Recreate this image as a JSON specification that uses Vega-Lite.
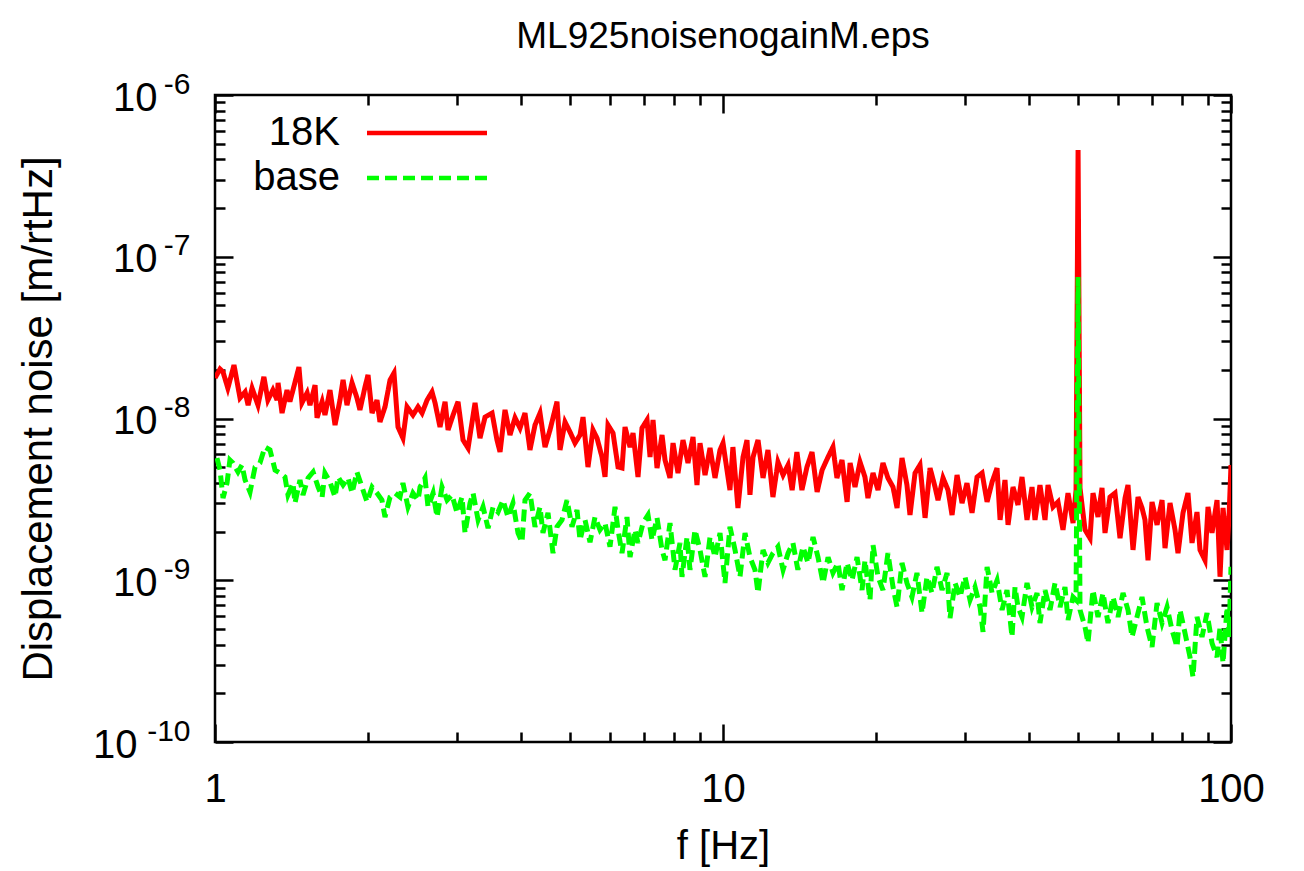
{
"$schema":"https://vega.github.io/schema/vega-lite/v6.json",
"width":1016,"height":647,
"autosize":{"type":"none"},
"padding":{"left":215,"top":95,"right":73,"bottom":129},
"background":"white",
"title":{"text":"ML925noisenogainM.eps","fontSize":37,"font":"Liberation Sans","fontWeight":"normal","color":"black","anchor":"middle","frame":"group","offset":13},
"config":{
 "view":{"stroke":"black","strokeWidth":2.5},
 "axis":{"labelFont":"Liberation Sans","titleFont":"Liberation Sans","labelColor":"black","titleColor":"black","tickColor":"black","tickWidth":2.5,"domain":false,"grid":false,"labelFontSize":40,"titleFontSize":40,"titleFontWeight":"normal","labelFlush":false,"labelOverlap":false,"labelBound":false},
 "legend":{"orient":"none","legendX":150,"legendY":18,"symbolType":"M-6,0H6","symbolSize":400,"symbolStrokeWidth":4.5,"symbolOffset":42,"labelFontSize":40,"labelFont":"Liberation Sans","labelColor":"black","labelAlign":"right","labelOffset":-107,"labelLimit":0,"rowPadding":5,"padding":0}
},
"datasets":{
"k18":[
{"f":1.000,"v":1.78e-8},{"f":1.023,"v":2.02e-8},{"f":1.037,"v":1.94e-8},{"f":1.060,"v":1.54e-8},{"f":1.090,"v":2.14e-8},{"f":1.120,"v":1.34e-8},{"f":1.146,"v":1.46e-8},{"f":1.162,"v":1.21e-8},{"f":1.183,"v":1.54e-8},{"f":1.215,"v":1.21e-8},
{"f":1.248,"v":1.81e-8},{"f":1.271,"v":1.30e-8},{"f":1.300,"v":1.50e-8},{"f":1.325,"v":1.30e-8},{"f":1.331,"v":1.66e-8},{"f":1.355,"v":1.08e-8},{"f":1.386,"v":1.50e-8},{"f":1.404,"v":1.27e-8},{"f":1.424,"v":1.50e-8},{"f":1.463,"v":2.08e-8},
{"f":1.483,"v":1.25e-8},{"f":1.518,"v":1.44e-8},{"f":1.538,"v":1.21e-8},{"f":1.574,"v":1.61e-8},{"f":1.588,"v":1.01e-8},{"f":1.625,"v":1.27e-8},{"f":1.646,"v":1.05e-8},{"f":1.684,"v":1.50e-8},{"f":1.723,"v":9.11e-9},{"f":1.762,"v":1.30e-8},
{"f":1.787,"v":1.73e-8},{"f":1.819,"v":1.21e-8},{"f":1.861,"v":1.66e-8},{"f":1.903,"v":1.34e-8},{"f":1.929,"v":1.13e-8},{"f":1.974,"v":1.57e-8},{"f":2.001,"v":1.86e-8},{"f":2.038,"v":1.08e-8},{"f":2.084,"v":1.30e-8},{"f":2.112,"v":9.51e-9},
{"f":2.161,"v":1.18e-8},{"f":2.211,"v":1.73e-8},{"f":2.251,"v":1.91e-8},{"f":2.292,"v":8.86e-9},{"f":2.344,"v":7.57e-9},{"f":2.388,"v":1.18e-8},{"f":2.453,"v":1.05e-8},{"f":2.510,"v":1.18e-8},{"f":2.556,"v":1.08e-8},{"f":2.615,"v":1.30e-8},
{"f":2.674,"v":1.46e-8},{"f":2.711,"v":1.25e-8},{"f":2.773,"v":8.86e-9},{"f":2.837,"v":1.27e-8},{"f":2.876,"v":8.49e-9},{"f":2.942,"v":1.05e-8},{"f":3.009,"v":1.27e-8},{"f":3.078,"v":7.36e-9},{"f":3.149,"v":6.57e-9},{"f":3.250,"v":1.25e-8},
{"f":3.324,"v":7.57e-9},{"f":3.401,"v":1.02e-8},{"f":3.511,"v":1.08e-8},{"f":3.590,"v":7.36e-9},{"f":3.640,"v":6.21e-9},{"f":3.723,"v":1.13e-8},{"f":3.808,"v":7.91e-9},{"f":3.896,"v":1.01e-8},{"f":3.985,"v":8.73e-9},{"f":4.076,"v":1.08e-8},
{"f":4.169,"v":6.39e-9},{"f":4.265,"v":9.11e-9},{"f":4.363,"v":1.08e-8},{"f":4.463,"v":6.66e-9},{"f":4.565,"v":8.49e-9},{"f":4.712,"v":1.27e-8},{"f":4.777,"v":6.39e-9},{"f":4.887,"v":9.51e-9},{"f":4.999,"v":8.25e-9},{"f":5.113,"v":7.05e-9},
{"f":5.230,"v":7.91e-9},{"f":5.302,"v":1.02e-8},{"f":5.423,"v":5.01e-9},{"f":5.547,"v":8.49e-9},{"f":5.649,"v":7.57e-9},{"f":5.778,"v":5.78e-9},{"f":5.858,"v":4.35e-9},{"f":5.938,"v":9.11e-9},{"f":6.074,"v":8.13e-9},{"f":6.214,"v":5.01e-9},
{"f":6.327,"v":4.94e-9},{"f":6.414,"v":8.86e-9},{"f":6.561,"v":6.66e-9},{"f":6.651,"v":8.13e-9},{"f":6.803,"v":4.35e-9},{"f":6.927,"v":8.73e-9},{"f":7.087,"v":9.79e-9},{"f":7.184,"v":5.78e-9},{"f":7.282,"v":9.79e-9},{"f":7.415,"v":4.94e-9},
{"f":7.585,"v":7.91e-9},{"f":7.689,"v":5.54e-9},{"f":7.865,"v":4.29e-9},{"f":7.973,"v":7.05e-9},{"f":8.155,"v":4.60e-9},{"f":8.342,"v":7.36e-9},{"f":8.533,"v":5.31e-9},{"f":8.729,"v":7.68e-9},{"f":8.888,"v":3.88e-9},{"f":9.010,"v":7.05e-9},
{"f":9.218,"v":4.47e-9},{"f":9.429,"v":6.57e-9},{"f":9.645,"v":4.29e-9},{"f":9.866,"v":6.39e-9},{"f":10.00,"v":7.05e-9},{"f":10.32,"v":3.61e-9},{"f":10.46,"v":6.66e-9},{"f":10.70,"v":2.80e-9},{"f":10.95,"v":5.78e-9},{"f":11.15,"v":7.36e-9},
{"f":11.30,"v":3.37e-9},{"f":11.46,"v":5.78e-9},{"f":11.72,"v":7.36e-9},{"f":11.99,"v":4.29e-9},{"f":12.26,"v":6.39e-9},{"f":12.54,"v":3.27e-9},{"f":12.83,"v":5.38e-9},{"f":13.13,"v":4.47e-9},{"f":13.43,"v":5.16e-9},{"f":13.68,"v":3.61e-9},
{"f":13.98,"v":6.21e-9},{"f":14.30,"v":3.61e-9},{"f":14.63,"v":5.01e-9},{"f":14.97,"v":6.21e-9},{"f":15.32,"v":3.51e-9},{"f":15.67,"v":4.80e-9},{"f":16.10,"v":5.78e-9},{"f":16.46,"v":6.66e-9},{"f":16.76,"v":4.29e-9},{"f":17.15,"v":5.54e-9},
{"f":17.55,"v":3.05e-9},{"f":17.79,"v":5.31e-9},{"f":18.19,"v":3.77e-9},{"f":18.61,"v":5.38e-9},{"f":19.03,"v":4.35e-9},{"f":19.29,"v":3.22e-9},{"f":19.74,"v":4.60e-9},{"f":20.19,"v":3.61e-9},{"f":20.65,"v":5.31e-9},{"f":21.12,"v":4.29e-9},
{"f":21.61,"v":3.77e-9},{"f":22.01,"v":2.80e-9},{"f":22.51,"v":5.70e-9},{"f":23.02,"v":3.88e-9},{"f":23.34,"v":2.53e-9},{"f":23.88,"v":4.60e-9},{"f":24.42,"v":5.16e-9},{"f":24.99,"v":2.43e-9},{"f":25.56,"v":4.94e-9},{"f":26.15,"v":3.77e-9},
{"f":26.50,"v":3.13e-9},{"f":27.11,"v":4.29e-9},{"f":27.73,"v":3.61e-9},{"f":28.24,"v":2.53e-9},{"f":28.89,"v":4.47e-9},{"f":29.55,"v":3.00e-9},{"f":30.22,"v":3.99e-9},{"f":30.92,"v":2.61e-9},{"f":31.63,"v":4.35e-9},{"f":32.36,"v":4.60e-9},
{"f":33.10,"v":3.05e-9},{"f":33.86,"v":4.05e-9},{"f":34.63,"v":4.94e-9},{"f":35.11,"v":2.36e-9},{"f":35.90,"v":4.17e-9},{"f":36.40,"v":2.20e-9},{"f":37.23,"v":3.77e-9},{"f":38.08,"v":2.92e-9},{"f":38.78,"v":4.35e-9},{"f":39.67,"v":2.36e-9},
{"f":40.58,"v":3.77e-9},{"f":41.13,"v":2.36e-9},{"f":42.07,"v":3.88e-9},{"f":43.04,"v":2.36e-9},{"f":43.63,"v":3.88e-9},{"f":44.63,"v":2.84e-9},{"f":45.65,"v":3.05e-9},{"f":46.70,"v":2.05e-9},{"f":47.77,"v":3.46e-9},{"f":48.87,"v":2.26e-9},
{"f":49.54,"v":3.61e-9},{"f":50.00,"v":4.57e-7},{"f":50.44,"v":3.72e-9},{"f":51.60,"v":2.05e-9},{"f":52.78,"v":1.82e-9},{"f":53.50,"v":3.46e-9},{"f":54.73,"v":2.46e-9},{"f":55.73,"v":3.72e-9},{"f":56.49,"v":1.96e-9},{"f":57.78,"v":3.27e-9},
{"f":59.11,"v":3.46e-9},{"f":60.47,"v":1.82e-9},{"f":61.86,"v":3.22e-9},{"f":62.70,"v":3.88e-9},{"f":64.14,"v":1.54e-9},{"f":65.61,"v":3.27e-9},{"f":66.81,"v":2.80e-9},{"f":67.72,"v":2.36e-9},{"f":68.65,"v":1.33e-9},{"f":69.91,"v":3.05e-9},
{"f":71.52,"v":2.20e-9},{"f":73.16,"v":3.13e-9},{"f":74.15,"v":1.58e-9},{"f":75.85,"v":3.00e-9},{"f":77.59,"v":2.05e-9},{"f":78.65,"v":1.47e-9},{"f":80.45,"v":2.61e-9},{"f":82.29,"v":3.46e-9},{"f":83.80,"v":1.70e-9},{"f":85.72,"v":2.64e-9},
{"f":86.89,"v":1.54e-9},{"f":88.88,"v":1.33e-9},{"f":90.10,"v":2.84e-9},{"f":91.75,"v":1.96e-9},{"f":93.87,"v":3.13e-9},{"f":95.15,"v":1.05e-9},{"f":96.45,"v":2.80e-9},{"f":98.22,"v":1.54e-9},{"f":99.11,"v":2.46e-9},{"f":100.0,"v":5.16e-9}
],
"base":[
{"f":1.009,"v":5.70e-9},{"f":1.023,"v":4.80e-9},{"f":1.037,"v":3.22e-9},{"f":1.056,"v":3.99e-9},{"f":1.070,"v":5.54e-9},{"f":1.085,"v":5.31e-9},{"f":1.110,"v":4.67e-9},{"f":1.130,"v":5.16e-9},{"f":1.146,"v":4.17e-9},{"f":1.172,"v":3.51e-9},
{"f":1.199,"v":5.01e-9},{"f":1.226,"v":5.31e-9},{"f":1.254,"v":6.66e-9},{"f":1.283,"v":6.39e-9},{"f":1.313,"v":4.80e-9},{"f":1.343,"v":4.60e-9},{"f":1.373,"v":4.35e-9},{"f":1.392,"v":3.37e-9},{"f":1.424,"v":3.99e-9},{"f":1.437,"v":3.00e-9},
{"f":1.470,"v":4.17e-9},{"f":1.490,"v":3.37e-9},{"f":1.525,"v":4.29e-9},{"f":1.560,"v":4.67e-9},{"f":1.596,"v":3.77e-9},{"f":1.625,"v":3.27e-9},{"f":1.646,"v":4.60e-9},{"f":1.684,"v":4.05e-9},{"f":1.723,"v":3.27e-9},{"f":1.747,"v":4.35e-9},
{"f":1.787,"v":3.88e-9},{"f":1.828,"v":4.29e-9},{"f":1.861,"v":3.46e-9},{"f":1.903,"v":4.67e-9},{"f":1.947,"v":3.77e-9},{"f":1.992,"v":3.05e-9},{"f":2.038,"v":3.77e-9},{"f":2.084,"v":3.46e-9},{"f":2.131,"v":3.13e-9},{"f":2.161,"v":2.46e-9},
{"f":2.211,"v":3.27e-9},{"f":2.261,"v":3.46e-9},{"f":2.313,"v":3.27e-9},{"f":2.344,"v":3.99e-9},{"f":2.398,"v":2.84e-9},{"f":2.453,"v":3.46e-9},{"f":2.510,"v":3.13e-9},{"f":2.533,"v":3.77e-9},{"f":2.591,"v":4.29e-9},{"f":2.626,"v":2.84e-9},
{"f":2.687,"v":3.46e-9},{"f":2.736,"v":2.46e-9},{"f":2.798,"v":3.77e-9},{"f":2.863,"v":3.13e-9},{"f":2.928,"v":3.37e-9},{"f":2.995,"v":2.61e-9},{"f":3.064,"v":3.27e-9},{"f":3.106,"v":1.96e-9},{"f":3.177,"v":3.00e-9},{"f":3.221,"v":3.46e-9},
{"f":3.295,"v":2.36e-9},{"f":3.370,"v":2.84e-9},{"f":3.448,"v":2.10e-9},{"f":3.527,"v":2.84e-9},{"f":3.607,"v":2.64e-9},{"f":3.689,"v":3.13e-9},{"f":3.774,"v":2.46e-9},{"f":3.860,"v":3.00e-9},{"f":3.949,"v":1.96e-9},{"f":4.021,"v":1.72e-9},
{"f":4.076,"v":3.13e-9},{"f":4.169,"v":3.46e-9},{"f":4.265,"v":2.14e-9},{"f":4.363,"v":2.84e-9},{"f":4.422,"v":1.96e-9},{"f":4.524,"v":2.61e-9},{"f":4.628,"v":1.47e-9},{"f":4.712,"v":2.14e-9},{"f":4.820,"v":2.36e-9},{"f":4.931,"v":3.13e-9},
{"f":5.044,"v":2.14e-9},{"f":5.160,"v":2.72e-9},{"f":5.230,"v":1.77e-9},{"f":5.350,"v":2.36e-9},{"f":5.473,"v":1.72e-9},{"f":5.598,"v":2.46e-9},{"f":5.726,"v":2.05e-9},{"f":5.858,"v":2.26e-9},{"f":5.992,"v":1.61e-9},{"f":6.130,"v":2.84e-9},
{"f":6.214,"v":2.05e-9},{"f":6.327,"v":1.47e-9},{"f":6.472,"v":2.46e-9},{"f":6.561,"v":1.39e-9},{"f":6.711,"v":2.05e-9},{"f":6.803,"v":1.70e-9},{"f":6.959,"v":2.26e-9},{"f":7.119,"v":2.53e-9},{"f":7.249,"v":1.77e-9},{"f":7.415,"v":2.43e-9},
{"f":7.585,"v":1.54e-9},{"f":7.689,"v":1.33e-9},{"f":7.865,"v":2.26e-9},{"f":8.045,"v":1.16e-9},{"f":8.229,"v":1.70e-9},{"f":8.304,"v":1.05e-9},{"f":8.495,"v":1.85e-9},{"f":8.611,"v":1.16e-9},{"f":8.808,"v":2.05e-9},{"f":9.010,"v":1.54e-9},
{"f":9.218,"v":1.05e-9},{"f":9.429,"v":1.85e-9},{"f":9.645,"v":1.39e-9},{"f":9.866,"v":1.96e-9},{"f":10.09,"v":9.62e-10},{"f":10.32,"v":2.14e-9},{"f":10.56,"v":1.54e-9},{"f":10.80,"v":1.05e-9},{"f":11.05,"v":1.96e-9},{"f":11.30,"v":1.39e-9},
{"f":11.56,"v":1.16e-9},{"f":11.72,"v":8.34e-10},{"f":11.99,"v":1.54e-9},{"f":12.26,"v":1.28e-9},{"f":12.54,"v":1.47e-9},{"f":12.83,"v":1.61e-9},{"f":13.13,"v":1.16e-9},{"f":13.43,"v":1.47e-9},{"f":13.73,"v":1.70e-9},{"f":14.04,"v":1.16e-9},
{"f":14.37,"v":1.61e-9},{"f":14.70,"v":1.28e-9},{"f":15.04,"v":1.85e-9},{"f":15.38,"v":1.39e-9},{"f":15.74,"v":9.62e-10},{"f":16.10,"v":1.39e-9},{"f":16.46,"v":1.11e-9},{"f":16.84,"v":1.28e-9},{"f":17.15,"v":8.70e-10},{"f":17.55,"v":1.28e-9},
{"f":17.95,"v":1.00e-9},{"f":18.36,"v":1.39e-9},{"f":18.78,"v":8.70e-10},{"f":19.03,"v":1.33e-9},{"f":19.47,"v":7.55e-10},{"f":19.74,"v":1.65e-9},{"f":20.19,"v":1.05e-9},{"f":20.65,"v":8.70e-10},{"f":21.12,"v":1.47e-9},{"f":21.61,"v":9.08e-10},
{"f":22.01,"v":6.83e-10},{"f":22.51,"v":1.28e-9},{"f":23.02,"v":9.62e-10},{"f":23.55,"v":7.88e-10},{"f":24.09,"v":1.11e-9},{"f":24.65,"v":6.27e-10},{"f":25.21,"v":1.05e-9},{"f":25.79,"v":8.34e-10},{"f":26.38,"v":1.21e-9},{"f":26.99,"v":8.70e-10},
{"f":27.61,"v":1.11e-9},{"f":27.98,"v":5.84e-10},{"f":28.63,"v":9.62e-10},{"f":29.28,"v":7.88e-10},{"f":29.95,"v":1.05e-9},{"f":30.64,"v":7.55e-10},{"f":31.34,"v":9.08e-10},{"f":32.06,"v":6.83e-10},{"f":32.50,"v":4.79e-10},{"f":33.10,"v":1.21e-9},
{"f":33.86,"v":8.34e-10},{"f":34.63,"v":1.00e-9},{"f":35.43,"v":6.55e-10},{"f":36.23,"v":8.70e-10},{"f":37.06,"v":4.46e-10},{"f":37.57,"v":9.08e-10},{"f":38.08,"v":6.83e-10},{"f":38.78,"v":5.93e-10},{"f":39.67,"v":9.62e-10},{"f":40.58,"v":6.83e-10},
{"f":41.51,"v":8.34e-10},{"f":42.07,"v":5.44e-10},{"f":43.04,"v":8.70e-10},{"f":44.02,"v":6.55e-10},{"f":45.04,"v":9.62e-10},{"f":46.07,"v":6.83e-10},{"f":47.12,"v":9.08e-10},{"f":47.77,"v":5.68e-10},{"f":48.87,"v":7.88e-10},{"f":49.54,"v":7.55e-10},
{"f":50.00,"v":7.49e-8},{"f":50.44,"v":6.55e-10},{"f":51.60,"v":5.14e-10},{"f":52.30,"v":4.09e-10},{"f":53.50,"v":8.70e-10},{"f":54.73,"v":5.93e-10},{"f":55.98,"v":8.34e-10},{"f":57.26,"v":5.44e-10},{"f":58.58,"v":7.88e-10},{"f":59.92,"v":5.93e-10},
{"f":61.30,"v":8.34e-10},{"f":62.70,"v":6.55e-10},{"f":63.86,"v":4.46e-10},{"f":65.31,"v":5.93e-10},{"f":66.81,"v":7.88e-10},{"f":68.34,"v":5.14e-10},{"f":69.91,"v":3.87e-10},{"f":71.52,"v":7.23e-10},{"f":73.16,"v":5.44e-10},{"f":74.83,"v":6.83e-10},
{"f":76.54,"v":4.93e-10},{"f":78.30,"v":3.87e-10},{"f":79.37,"v":6.55e-10},{"f":81.18,"v":4.72e-10},{"f":83.04,"v":3.35e-10},{"f":84.18,"v":2.52e-10},{"f":85.72,"v":5.93e-10},{"f":87.69,"v":4.46e-10},{"f":89.69,"v":6.27e-10},{"f":91.75,"v":4.09e-10},
{"f":93.87,"v":3.35e-10},{"f":95.15,"v":5.14e-10},{"f":96.45,"v":3.08e-10},{"f":98.22,"v":6.83e-10},{"f":99.11,"v":4.46e-10},{"f":100.0,"v":1.21e-9}
]
},
"layer":[
{"data":{"name":"k18"},
 "mark":{"type":"line","strokeWidth":5,"clip":true},
 "encoding":{
  "x":{"field":"f","type":"quantitative","scale":{"type":"log","domain":[1,100],"nice":false},
       "axis":{"orient":"bottom","values":[1,10,100],"format":"d","tickSize":-18,"labelPadding":45,"title":"f [Hz]","titlePadding":17}},
  "y":{"field":"v","type":"quantitative","scale":{"type":"log","domain":[1e-10,1e-6],"nice":false},
       "axis":{"orient":"left","values":[1e-10,1e-9,1e-8,1e-7,1e-6],"labelExpr":"datum.value < 2e-10 ? '' : '10'","tickSize":-18,"labelAlign":"right","labelBaseline":"middle","labelPadding":76,"labelOffset":3,"title":"Displacement noise [m/rtHz]","titleFontSize":42,"titlePadding":52}},
  "color":{"datum":"18K","type":"nominal","scale":{"domain":["18K","base"],"range":["#ff0000","#00ff00"]},"legend":{"title":null}},
  "strokeDash":{"datum":"18K","type":"nominal","scale":{"domain":["18K","base"],"range":[[1,0],[12,6]]},"legend":{"title":null}}
 }},
{"data":{"name":"base"},
 "mark":{"type":"line","strokeWidth":5,"clip":true},
 "encoding":{
  "x":{"field":"f","type":"quantitative","axis":{"orient":"bottom","values":[2,3,4,5,6,7,8,9,20,30,40,50,60,70,80,90],"tickSize":-10,"labels":false,"title":null}},
  "y":{"field":"v","type":"quantitative","axis":{"orient":"left","values":[2e-10,3e-10,4e-10,5e-10,6e-10,7e-10,8e-10,9e-10,2e-9,3e-9,4e-9,5e-9,6e-9,7e-9,8e-9,9e-9,2e-8,3e-8,4e-8,5e-8,6e-8,7e-8,8e-8,9e-8,2e-7,3e-7,4e-7,5e-7,6e-7,7e-7,8e-7,9e-7],"tickSize":-10,"labels":false,"title":null}},
  "color":{"datum":"base","type":"nominal"},
  "strokeDash":{"datum":"base","type":"nominal"}
 }},
{"data":{"name":"k18"},
 "mark":{"type":"line","opacity":0},
 "encoding":{
  "x":{"field":"f","type":"quantitative","axis":{"orient":"top","values":[1,10,100],"tickSize":-18,"labels":false,"title":null}},
  "y":{"field":"v","type":"quantitative","axis":{"orient":"right","values":[1e-10,1e-9,1e-8,1e-7,1e-6],"tickSize":-18,"labels":false,"title":null}}
 }},
{"data":{"name":"k18"},
 "mark":{"type":"line","opacity":0},
 "encoding":{
  "x":{"field":"f","type":"quantitative","axis":{"orient":"top","values":[2,3,4,5,6,7,8,9,20,30,40,50,60,70,80,90],"tickSize":-10,"labels":false,"title":null}},
  "y":{"field":"v","type":"quantitative","axis":{"orient":"right","values":[2e-10,3e-10,4e-10,5e-10,6e-10,7e-10,8e-10,9e-10,2e-9,3e-9,4e-9,5e-9,6e-9,7e-9,8e-9,9e-9,2e-8,3e-8,4e-8,5e-8,6e-8,7e-8,8e-8,9e-8,2e-7,3e-7,4e-7,5e-7,6e-7,7e-7,8e-7,9e-7],"tickSize":-10,"labels":false,"title":null}}
 }},
{"data":{"name":"k18"},
 "mark":{"type":"line","opacity":0},
 "encoding":{
  "x":{"field":"f","type":"quantitative","axis":null},
  "y":{"field":"v","type":"quantitative","axis":{"orient":"left","values":[1e-10,1e-9,1e-8,1e-7,1e-6],"labelExpr":"'-' + round(-log(datum.value)/LN10)","ticks":false,"labelFontSize":30,"labelAlign":"right","labelBaseline":"middle","labelPadding":25,"labelOffset":-11,"title":null}}
 }},
{"data":{"name":"k18"},
 "mark":{"type":"line","opacity":0},
 "encoding":{
  "x":{"field":"f","type":"quantitative","axis":null},
  "y":{"field":"v","type":"quantitative","axis":{"orient":"left","values":[1e-10],"labelExpr":"'10'","ticks":false,"labelAlign":"right","labelBaseline":"middle","labelPadding":78,"labelOffset":3,"title":null}}
 }}
],
"resolve":{"axis":{"x":"independent","y":"independent"}}
}
